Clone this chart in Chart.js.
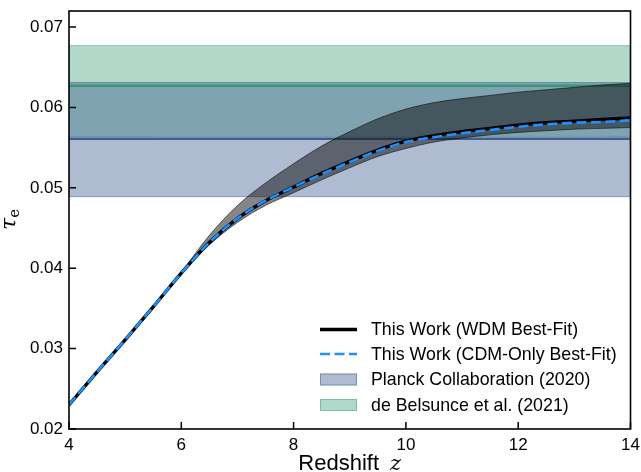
<!DOCTYPE html>
<html>
<head>
<meta charset="utf-8">
<script src="https://cdn.jsdelivr.net/npm/chart.js@4.4.1/dist/chart.umd.min.js"></script>
<style>
html,body{margin:0;padding:0;background:#fff;}
#wrap{width:641px;height:472px;position:relative;}
</style>
</head>
<body>
<div id="wrap"><canvas id="c" width="641" height="472"></canvas></div>
<script>
// ---------- data ----------
const redshift = [4,4.5,5,5.5,6,6.5,7,7.5,8,8.5,9,9.5,10,10.5,11,11.5,12,12.5,13,13.5,14];
const tauWDM   = [0.0230,0.0271,0.0311,0.0352,0.0394,0.0432,0.0462,0.0484,0.0501,0.0518,0.0533,0.0547,0.0558,0.0565,0.0570,0.0574,0.0578,0.0581,0.0583,0.0585,0.0587];
const tauCDM   = [0.0230,0.0271,0.0311,0.0352,0.0394,0.0432,0.0462,0.0484,0.0501,0.0517,0.0532,0.0546,0.0557,0.0563,0.0568,0.0572,0.0576,0.0579,0.0581,0.0582,0.0584];
const tauWDMHigh = [0.0230,0.0271,0.0311,0.0352,0.0395,0.0441,0.0478,0.0506,0.0530,0.0552,0.0570,0.0586,0.0598,0.0606,0.0611,0.0615,0.0619,0.0622,0.0625,0.0628,0.0630];
const tauWDMLow  = [0.0230,0.0271,0.0311,0.0352,0.0394,0.0429,0.0457,0.0478,0.0494,0.0510,0.0525,0.0539,0.0549,0.0557,0.0562,0.0566,0.0569,0.0571,0.0573,0.0574,0.0575];
const planckTau = [0.0489, 0.0561, 0.0631];     // low, central, high
const belsunceTau = [0.0564, 0.0627, 0.0677];   // low, central, high
const zRange = [4, 14];
const xTicks = [4,6,8,10,12,14];
const yTicks = [0.02,0.03,0.04,0.05,0.06,0.07];
const yRange = [0.02, 0.072];
const legendLabels = ['This Work (WDM Best-Fit)','This Work (CDM-Only Best-Fit)','Planck Collaboration (2020)','de Belsunce et al. (2021)'];
const xTitle = 'Redshift', xTitleVar = 'z';
const yTitleVar = 'τ', yTitleSub = 'e';

// ---------- helpers ----------
const pts = ys => redshift.map((z,i)=>({x:z, y:ys[i]}));
const hline = v => zRange.map(z=>({x:z, y:v}));
const SANS = "'Liberation Sans', Arial, Helvetica, sans-serif";
const SERIF = "'DejaVu Serif', 'Liberation Serif', serif";

const base = {pointRadius:0, pointHoverRadius:0, cubicInterpolationMode:'monotone', fill:false};

const datasets = [
  {...base, label:legendLabels[1], data:pts(tauCDM), borderColor:'#1e90ff', borderWidth:2.6, borderDash:[10,4.5], order:1},          //0
  {...base, label:legendLabels[0], data:pts(tauWDM), borderColor:'#000000', borderWidth:3.4, order:2},                               //1
  {...base, label:'wdm-hi', data:pts(tauWDMHigh), borderColor:'rgba(0,0,0,0.55)', borderWidth:1, backgroundColor:'rgba(12,12,12,0.5)', fill:'+1', order:3}, //2
  {...base, label:'wdm-lo', data:pts(tauWDMLow), borderColor:'rgba(0,0,0,0.55)', borderWidth:1, order:3},                            //3
  {...base, label:'planck-mid', data:hline(planckTau[1]), borderColor:'rgba(52,85,139,0.9)', borderWidth:2.4, order:5},               //4
  {...base, label:'belsunce-mid', data:hline(belsunceTau[1]), borderColor:'rgba(50,150,112,0.9)', borderWidth:2.6, order:6},         //5
  {...base, label:legendLabels[2], data:hline(planckTau[2]), borderColor:'rgba(52,85,139,0.45)', borderWidth:1, backgroundColor:'rgba(52,85,139,0.4)', fill:'+1', order:7}, //6
  {...base, label:'planck-lo', data:hline(planckTau[0]), borderColor:'rgba(52,85,139,0.45)', borderWidth:1, order:7},                //7
  {...base, label:legendLabels[3], data:hline(belsunceTau[2]), borderColor:'rgba(60,157,120,0.45)', borderWidth:1, backgroundColor:'rgba(60,157,120,0.4)', fill:'+1', order:8}, //8
  {...base, label:'belsunce-lo', data:hline(belsunceTau[0]), borderColor:'rgba(60,157,120,0.45)', borderWidth:1, order:8}            //9
];
const legendDatasets = [1,0,6,8];

const decor = {
  id:'decor',
  afterDraw(chart){
    const {ctx, chartArea:ca, scales:{x, y}} = chart;
    ctx.save();
    ctx.strokeStyle = '#000';
    ctx.lineWidth = 1.6;
    ctx.strokeRect(ca.left, ca.top, ca.right-ca.left, ca.bottom-ca.top);
    ctx.lineWidth = 1.5;
    ctx.beginPath();
    xTicks.forEach(v=>{const p=x.getPixelForValue(v); ctx.moveTo(p, ca.bottom); ctx.lineTo(p, ca.bottom-7);});
    yTicks.forEach(v=>{const p=y.getPixelForValue(v); ctx.moveTo(ca.left, p); ctx.lineTo(ca.left+7, p);});
    ctx.stroke();

    // x title
    ctx.fillStyle = '#000';
    ctx.textBaseline = 'alphabetic';
    ctx.textAlign = 'left';
    const f1 = "22px " + SANS, f2 = "italic 21px " + SERIF;
    ctx.font = f1; const w1 = ctx.measureText(xTitle).width;
    ctx.font = f2; const w2 = ctx.measureText(xTitleVar).width;
    const gap = 11;
    const sx = (ca.left+ca.right)/2 - (w1+gap+w2)/2;
    ctx.font = f1; ctx.fillText(xTitle, sx, 470);
    ctx.font = f2; ctx.fillText(xTitleVar, sx+w1+gap, 470);

    // y title
    ctx.save();
    ctx.translate(16, 219);
    ctx.rotate(-Math.PI/2);
    ctx.font = "italic 22px " + SERIF;
    const wt = ctx.measureText(yTitleVar).width;
    ctx.fillText(yTitleVar, -11, 0);
    ctx.font = "15px " + SERIF;
    ctx.fillText(yTitleSub, -11+wt, 3);
    ctx.restore();

    // legend
    const rowY = [329.5, 354, 379.5, 405];
    const hx0 = 320, hx1 = 357, tx = 371;
    ctx.font = "17.8px " + SANS;
    ctx.textBaseline = 'middle';
    legendDatasets.forEach((di, i)=>{
      const ds = chart.data.datasets[di];
      const cy = rowY[i];
      if (ds.backgroundColor && ds.fill) {
        ctx.setLineDash([]);
        ctx.fillStyle = ds.backgroundColor;
        ctx.fillRect(hx0, cy-6, hx1-hx0, 12);
        ctx.strokeStyle = ds.borderColor;
        ctx.lineWidth = 1;
        ctx.strokeRect(hx0+0.5, cy-5.5, hx1-hx0-1, 11);
      } else {
        ctx.strokeStyle = ds.borderColor;
        ctx.lineWidth = ds.borderWidth;
        ctx.setLineDash(ds.borderDash || []);
        ctx.beginPath(); ctx.moveTo(hx0, cy); ctx.lineTo(hx1, cy); ctx.stroke();
        ctx.setLineDash([]);
      }
      ctx.fillStyle = '#000';
      ctx.fillText(legendLabels[i], tx, cy+1);
    });
    ctx.restore();
  }
};

const zeroPad = s => { s.paddingLeft = 0; s.paddingRight = 0; s.paddingTop = 0; s.paddingBottom = 0; };

new Chart(document.getElementById('c'), {
  type:'line',
  data:{datasets},
  options:{
    responsive:false,
    animation:false,
    devicePixelRatio:1,
    layout:{padding:{top:11, right:10.5, left:0, bottom:0}},
    plugins:{legend:{display:false}, tooltip:{enabled:false}},
    elements:{line:{borderCapStyle:'butt'}},
    scales:{
      x:{
        type:'linear', min:zRange[0], max:zRange[1],
        afterBuildTicks:s=>{s.ticks = xTicks.map(v=>({value:v}));},
        afterFit:s=>{s.height = 43; zeroPad(s);},
        grid:{display:false, drawTicks:false}, border:{display:false},
        ticks:{color:'#000', font:{size:17, family:SANS}, padding:6, maxRotation:0, autoSkip:false, callback:v=>String(v)}
      },
      y:{
        type:'linear', min:yRange[0], max:yRange[1],
        afterBuildTicks:s=>{s.ticks = yTicks.map(v=>({value:v}));},
        afterFit:s=>{s.width = 69; zeroPad(s);},
        grid:{display:false, drawTicks:false}, border:{display:false},
        ticks:{color:'#000', font:{size:17, family:SANS}, padding:6, autoSkip:false, callback:v=>Number(v).toFixed(2)}
      }
    }
  },
  plugins:[decor]
});
</script>
</body>
</html>
